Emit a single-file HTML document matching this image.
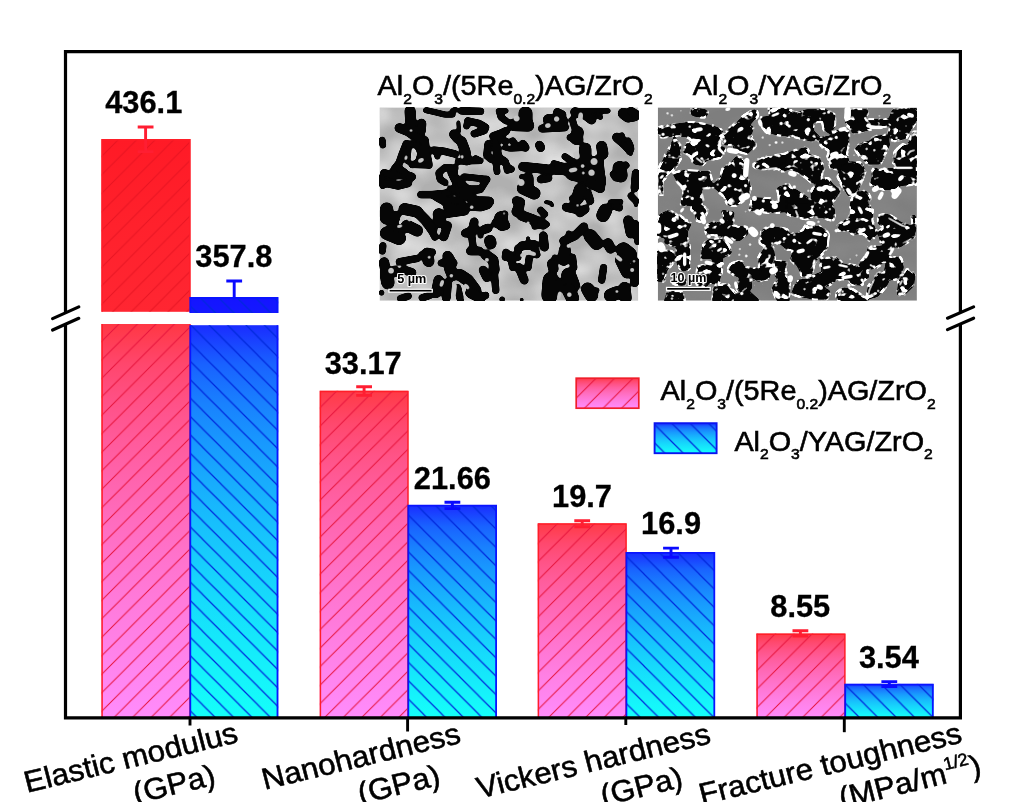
<!DOCTYPE html>
<html lang="en"><head><meta charset="utf-8"><title>Mechanical properties</title>
<style>
html,body{margin:0;padding:0;background:#fff;}
body{width:1024px;height:802px;overflow:hidden;}
svg{display:block;}
text{font-family:"Liberation Sans",sans-serif;fill:#000;}
.v{font-weight:bold;font-size:30.8px;text-anchor:middle;stroke:#000;stroke-width:0.3px;}
.t{font-size:27.8px;stroke:#000;stroke-width:0.6px;}
.x{font-size:30.1px;text-anchor:middle;stroke:#000;stroke-width:0.55px;}
.sub{font-size:15.1px;}
</style></head><body>
<svg width="1024" height="802" viewBox="0 0 1024 802">
<defs>
<linearGradient id="gr" x1="0" y1="0" x2="0" y2="1"><stop offset="0.00" stop-color="#ff3a46"/><stop offset="0.10" stop-color="#ff486d"/><stop offset="0.20" stop-color="#ff5387"/><stop offset="0.30" stop-color="#ff5d9d"/><stop offset="0.40" stop-color="#ff65af"/><stop offset="0.50" stop-color="#ff6dbe"/><stop offset="0.60" stop-color="#ff74cd"/><stop offset="0.70" stop-color="#ff7ada"/><stop offset="0.80" stop-color="#ff81e6"/><stop offset="0.90" stop-color="#ff86f1"/><stop offset="1.00" stop-color="#ff8cfc"/></linearGradient>
<linearGradient id="gb" x1="0" y1="0" x2="0" y2="1"><stop offset="0.00" stop-color="#1a2cff"/><stop offset="0.10" stop-color="#1962ff"/><stop offset="0.20" stop-color="#1981fe"/><stop offset="0.30" stop-color="#1899fe"/><stop offset="0.40" stop-color="#18acfd"/><stop offset="0.50" stop-color="#17befd"/><stop offset="0.60" stop-color="#17cdfc"/><stop offset="0.70" stop-color="#16dbfc"/><stop offset="0.80" stop-color="#15e8fb"/><stop offset="0.90" stop-color="#15f4fb"/><stop offset="1.00" stop-color="#14fffa"/></linearGradient>
<linearGradient id="gr1u" x1="0" y1="0" x2="0" y2="1"><stop offset="0.00" stop-color="#ff1a26"/><stop offset="0.50" stop-color="#ff212c"/><stop offset="1.00" stop-color="#ff2632"/></linearGradient>
<linearGradient id="gr1l" x1="0" y1="0" x2="0" y2="1"><stop offset="0.00" stop-color="#ff3744"/><stop offset="0.10" stop-color="#ff466c"/><stop offset="0.20" stop-color="#ff5187"/><stop offset="0.30" stop-color="#ff5b9c"/><stop offset="0.40" stop-color="#ff64ae"/><stop offset="0.50" stop-color="#ff6cbe"/><stop offset="0.60" stop-color="#ff73cd"/><stop offset="0.70" stop-color="#ff7ada"/><stop offset="0.80" stop-color="#ff80e6"/><stop offset="0.90" stop-color="#ff86f1"/><stop offset="1.00" stop-color="#ff8cfc"/></linearGradient>
<linearGradient id="gb1u" x1="0" y1="0" x2="0" y2="1"><stop offset="0.00" stop-color="#1414ff"/><stop offset="0.50" stop-color="#1416ff"/><stop offset="1.00" stop-color="#1418ff"/></linearGradient>
<linearGradient id="gb1l" x1="0" y1="0" x2="0" y2="1"><stop offset="0.00" stop-color="#1a2cff"/><stop offset="0.10" stop-color="#1962ff"/><stop offset="0.20" stop-color="#1981fe"/><stop offset="0.30" stop-color="#1899fe"/><stop offset="0.40" stop-color="#18acfd"/><stop offset="0.50" stop-color="#17befd"/><stop offset="0.60" stop-color="#17cdfc"/><stop offset="0.70" stop-color="#16dbfc"/><stop offset="0.80" stop-color="#15e8fb"/><stop offset="0.90" stop-color="#15f4fb"/><stop offset="1.00" stop-color="#14fffa"/></linearGradient>
<pattern id="h0" patternUnits="userSpaceOnUse" width="18.5" height="18.5" x="0" y="17.5"><path d="M-1,19.5 L19.5,-1 M-1,1 L1,-1 M17.5,19.5 L19.5,17.5" stroke="#e6143c" stroke-width="1" fill="none" opacity="1"/></pattern>
<pattern id="h1" patternUnits="userSpaceOnUse" width="18.4" height="18.4" x="0" y="5.4"><path d="M-1,-1 L19.4,19.4 M17.4,-1 L19.4,1 M-1,17.4 L1,19.4" stroke="#0028dc" stroke-width="1.2" fill="none"/></pattern>
<pattern id="h2" patternUnits="userSpaceOnUse" width="18.5" height="18.5" x="0" y="6.2"><path d="M-1,19.5 L19.5,-1 M-1,1 L1,-1 M17.5,19.5 L19.5,17.5" stroke="#e6143c" stroke-width="1" fill="none" opacity="1"/></pattern>
<pattern id="h3" patternUnits="userSpaceOnUse" width="18.4" height="18.4" x="0" y="14.7"><path d="M-1,-1 L19.4,19.4 M17.4,-1 L19.4,1 M-1,17.4 L1,19.4" stroke="#0028dc" stroke-width="1.2" fill="none"/></pattern>
<pattern id="h4" patternUnits="userSpaceOnUse" width="18.5" height="18.5" x="0" y="8.1"><path d="M-1,19.5 L19.5,-1 M-1,1 L1,-1 M17.5,19.5 L19.5,17.5" stroke="#e6143c" stroke-width="1" fill="none" opacity="1"/></pattern>
<pattern id="h5" patternUnits="userSpaceOnUse" width="18.4" height="18.4" x="0" y="3.6"><path d="M-1,-1 L19.4,19.4 M17.4,-1 L19.4,1 M-1,17.4 L1,19.4" stroke="#0028dc" stroke-width="1.2" fill="none"/></pattern>
<pattern id="h6" patternUnits="userSpaceOnUse" width="18.5" height="18.5" x="0" y="3.0"><path d="M-1,19.5 L19.5,-1 M-1,1 L1,-1 M17.5,19.5 L19.5,17.5" stroke="#e6143c" stroke-width="1" fill="none" opacity="1"/></pattern>
<pattern id="h7" patternUnits="userSpaceOnUse" width="18.4" height="18.4" x="0" y="5.2"><path d="M-1,-1 L19.4,19.4 M17.4,-1 L19.4,1 M-1,17.4 L1,19.4" stroke="#0028dc" stroke-width="1.2" fill="none"/></pattern>
<pattern id="h0u" patternUnits="userSpaceOnUse" width="18.5" height="18.5" x="0" y="17.5"><path d="M-1,19.5 L19.5,-1 M-1,1 L1,-1 M17.5,19.5 L19.5,17.5" stroke="#e0101e" stroke-width="1" fill="none" opacity="0.75"/></pattern>
<pattern id="hlr" patternUnits="userSpaceOnUse" width="18.5" height="18.5" x="0" y="12.3"><path d="M-1,19.5 L19.5,-1 M-1,1 L1,-1 M17.5,19.5 L19.5,17.5" stroke="#e6143c" stroke-width="1" fill="none" opacity="1"/></pattern>
<pattern id="hlb" patternUnits="userSpaceOnUse" width="18.4" height="18.4" x="0" y="9.1"><path d="M-1,-1 L19.4,19.4 M17.4,-1 L19.4,1 M-1,17.4 L1,19.4" stroke="#0028dc" stroke-width="1.2" fill="none"/></pattern>
<clipPath id="clip1"><rect x="379.6" y="107.4" width="258.6" height="193.3"/></clipPath>
<clipPath id="clip2"><rect x="657.8" y="107.4" width="259.1" height="193.3"/></clipPath>
<filter id="goo" x="-5%" y="-5%" width="110%" height="110%" color-interpolation-filters="sRGB"><feGaussianBlur stdDeviation="1.1"/><feComponentTransfer><feFuncA type="linear" slope="5" intercept="-2"/></feComponentTransfer></filter>
<filter id="goo2" x="-5%" y="-5%" width="110%" height="110%" color-interpolation-filters="sRGB"><feGaussianBlur stdDeviation="0.8"/><feComponentTransfer><feFuncA type="linear" slope="3" intercept="-0.9"/></feComponentTransfer></filter>
<filter id="gooW" x="-5%" y="-5%" width="110%" height="110%" color-interpolation-filters="sRGB"><feGaussianBlur stdDeviation="0.9"/><feComponentTransfer result="shape"><feFuncA type="linear" slope="5" intercept="-2"/></feComponentTransfer><feMorphology in="shape" operator="dilate" radius="1.1" result="dil"/><feMorphology in="shape" operator="erode" radius="1.0" result="ero"/><feComposite in="dil" in2="ero" operator="out" result="rim"/><feTurbulence type="fractalNoise" baseFrequency="0.16" numOctaves="2" seed="11"/><feColorMatrix type="matrix" values="0 0 0 0 1  0 0 0 0 1  0 0 0 0 1  9 0 0 0 -4.3" result="spk"/><feComposite in="spk" in2="rim" operator="in" result="rimspk"/><feGaussianBlur in="rimspk" stdDeviation="0.35" result="rs"/><feTurbulence type="fractalNoise" baseFrequency="0.11 0.13" numOctaves="2" seed="29"/><feColorMatrix type="matrix" values="0 0 0 0 1  0 0 0 0 1  0 0 0 0 1  0 12 0 0 -7.5" result="spk2"/><feComposite in="spk2" in2="shape" operator="in" result="inspk"/><feGaussianBlur in="inspk" stdDeviation="0.4" result="is"/><feMerge><feMergeNode in="shape"/><feMergeNode in="is"/><feMergeNode in="rs"/></feMerge></filter>
<filter id="bg1" x="0" y="0" width="100%" height="100%" color-interpolation-filters="sRGB"><feTurbulence type="fractalNoise" baseFrequency="0.028 0.035" numOctaves="2" seed="7"/><feColorMatrix type="matrix" values="0 0 0 0 0  0 0 0 0 0  0 0 0 0 0  1.6 0 0 0 -0.45" result="n"/><feFlood flood-color="#e4e4e4"/><feComposite in2="n" operator="in"/></filter>
<filter id="bg2" x="0" y="0" width="100%" height="100%" color-interpolation-filters="sRGB"><feTurbulence type="fractalNoise" baseFrequency="0.02 0.05" numOctaves="2" seed="3"/><feColorMatrix type="matrix" values="0 0 0 0 0  0 0 0 0 0  0 0 0 0 0  0.5 0 0 0 -0.15" result="n"/><feFlood flood-color="#a0a0a0"/><feComposite in2="n" operator="in"/></filter>
</defs>
<rect width="1024" height="802" fill="#fff"/>
<g id="bars">
<rect x="101.5" y="139.2" width="88.5" height="172.6" fill="url(#gr1u)"/><rect x="101.5" y="139.2" width="88.5" height="172.6" fill="url(#h0u)"/>
<rect x="101.5" y="324.0" width="88.5" height="393.9" fill="url(#gr1l)"/><rect x="101.5" y="324.0" width="88.5" height="393.9" fill="url(#h0)"/>
<path d="M102.1,311.8 V139.8 H190.0 V311.8 M102.1,324 V717.9 M190.0,324 V717.9" stroke="#ff1e28" stroke-width="1.5" fill="none"/>
<rect x="190.0" y="297.3" width="88.2" height="15.7" fill="url(#gb1u)"/><rect x="190.0" y="297.3" width="88.2" height="15.7" fill="url(#h1)"/>
<rect x="190.0" y="325.2" width="88.2" height="392.7" fill="url(#gb1l)"/><rect x="190.0" y="325.2" width="88.2" height="392.7" fill="url(#h1)"/>
<path d="M190.3,313 V298.0 H277.5 V313 M190.3,325.2 V717.9 M277.5,325.2 V717.9" stroke="#0a14ff" stroke-width="1.8" fill="none"/>
<rect x="319.8" y="390.8" width="88.2" height="327.1" fill="url(#gr)"/><rect x="319.8" y="390.8" width="88.2" height="327.1" fill="url(#h2)"/>
<path d="M320.4,717.9 V391.4 H408.0 V717.9" stroke="#ff1e28" stroke-width="1.5" fill="none"/>
<rect x="408.0" y="505.0" width="88.8" height="212.9" fill="url(#gb)"/><rect x="408.0" y="505.0" width="88.8" height="212.9" fill="url(#h3)"/>
<path d="M408.3,717.9 V505.7 H496.1 V717.9" stroke="#0a14ff" stroke-width="1.8" fill="none"/>
<rect x="537.8" y="523.5" width="88.3" height="194.4" fill="url(#gr)"/><rect x="537.8" y="523.5" width="88.3" height="194.4" fill="url(#h4)"/>
<path d="M538.4,717.9 V524.1 H626.1 V717.9" stroke="#ff1e28" stroke-width="1.5" fill="none"/>
<rect x="626.1" y="552.2" width="88.9" height="165.7" fill="url(#gb)"/><rect x="626.1" y="552.2" width="88.9" height="165.7" fill="url(#h5)"/>
<path d="M626.4,717.9 V552.9 H714.3 V717.9" stroke="#0a14ff" stroke-width="1.8" fill="none"/>
<rect x="756.5" y="633.6" width="88.4" height="84.3" fill="url(#gr)"/><rect x="756.5" y="633.6" width="88.4" height="84.3" fill="url(#h6)"/>
<path d="M757.1,717.9 V634.2 H844.9 V717.9" stroke="#ff1e28" stroke-width="1.5" fill="none"/>
<rect x="844.9" y="683.9" width="88.6" height="34.0" fill="url(#gb)"/><rect x="844.9" y="683.9" width="88.6" height="34.0" fill="url(#h7)"/>
<path d="M845.2,717.9 V684.6 H932.8 V717.9" stroke="#0a14ff" stroke-width="1.8" fill="none"/>
</g>
<g id="errs" fill="none" stroke-width="2.9" stroke-linecap="butt">
<path d="M137.7,127.0 H153.5 M137.7,151.6 H153.5 M145.6,127.0 V151.6" stroke="#ff1e32"/>
<path d="M226.3,281.0 H242.1 M234.2,281.0 V297.3" stroke="#0a0aff"/>
<path d="M356.2,386.7 H372.0 M356.2,395.4 H372.0 M364.1,386.7 V395.4" stroke="#ff1e32"/>
<path d="M444.5,502.2 H460.3 M444.5,508.6 H460.3 M452.4,502.2 V508.6" stroke="#0a0aff"/>
<path d="M574.3,520.7 H590.1 M574.3,526.8 H590.1 M582.2,520.7 V526.8" stroke="#ff1e32"/>
<path d="M663.1,548.1 H678.9 M663.1,557.3 H678.9 M671.0,548.1 V557.3" stroke="#0a0aff"/>
<path d="M792.5,630.8 H808.3 M792.5,636.0 H808.3 M800.4,630.8 V636.0" stroke="#ff1e32"/>
<path d="M881.4,681.6 H897.2 M881.4,686.5 H897.2 M889.3,681.6 V686.5" stroke="#0a0aff"/>
</g>
<g id="frame" stroke="#000" stroke-width="3.2" fill="none">
<path d="M65.5,324 V717.9 H960.4 V324 M960.4,312.5 V51.7 H65.5 V312.5" stroke-linejoin="miter" stroke-linecap="butt"/>
<path d="M190.0,717.9 V725.5" stroke-width="2.9"/>
<path d="M407.6,717.9 V731.5" stroke-width="2.9"/>
<path d="M625.8,717.9 V725.0" stroke-width="2.9"/>
<path d="M844.3,717.9 V732.2" stroke-width="2.9"/>
<g stroke-width="3.2" stroke-linecap="round"><path d="M52.6,318.6 L78.8,306.9 M52.6,330.0 L78.8,318.3"/><path d="M947.5,318.2 L973.6,306.9 M947.5,329.6 L973.6,318.2"/></g>
</g>
<g id="vals">
<text class="v" x="143.75" y="113.3">436.1</text>
<text class="v" x="233.9" y="267.3">357.8</text>
<text class="v" x="363.2" y="373.5">33.17</text>
<text class="v" x="452.4" y="488.5">21.66</text>
<text class="v" x="582.0" y="507.0">19.7</text>
<text class="v" x="671.1" y="534.4">16.9</text>
<text class="v" x="800.3" y="617.1">8.55</text>
<text class="v" x="888.9" y="667.9">3.54</text>
</g>
<g id="titles">
<text class="t" transform="translate(377.6,95.2) scale(1.036,1)">Al<tspan class="sub" dy="8.6">2</tspan><tspan dy="-8.6">O</tspan><tspan class="sub" dy="8.6">3</tspan><tspan dy="-8.6">/(5Re</tspan><tspan class="sub" dy="8.6">0.2</tspan><tspan dy="-8.6">)AG/ZrO</tspan><tspan class="sub" dy="8.6">2</tspan></text>
<text class="t" transform="translate(692.8,95.2) scale(1.036,1)">Al<tspan class="sub" dy="8.6">2</tspan><tspan dy="-8.6">O</tspan><tspan class="sub" dy="8.6">3</tspan><tspan dy="-8.6">/YAG/ZrO</tspan><tspan class="sub" dy="8.6">2</tspan></text>
<text class="t" transform="translate(660.6,400.2) scale(1.036,1)">Al<tspan class="sub" dy="8.6">2</tspan><tspan dy="-8.6">O</tspan><tspan class="sub" dy="8.6">3</tspan><tspan dy="-8.6">/(5Re</tspan><tspan class="sub" dy="8.6">0.2</tspan><tspan dy="-8.6">)AG/ZrO</tspan><tspan class="sub" dy="8.6">2</tspan></text>
<text class="t" transform="translate(734.4,450.6) scale(1.036,1)">Al<tspan class="sub" dy="8.6">2</tspan><tspan dy="-8.6">O</tspan><tspan class="sub" dy="8.6">3</tspan><tspan dy="-8.6">/YAG/ZrO</tspan><tspan class="sub" dy="8.6">2</tspan></text>
</g>
<g id="legend">
<rect x="576.2" y="378.2" width="62.6" height="30" fill="url(#gr)"/><rect x="576.2" y="378.2" width="62.6" height="30" fill="url(#hlr)" stroke="#f01e2a" stroke-width="1.7"/>
<rect x="654.6" y="423.2" width="62" height="30" fill="url(#gb)"/><rect x="654.6" y="423.2" width="62" height="30" fill="url(#hlb)" stroke="#0a14f0" stroke-width="1.9"/>
</g>
<g id="sem1"><g clip-path="url(#clip1)">
<rect x="379.6" y="107.4" width="258.6" height="193.3" fill="#b0b0b0"/>
<rect x="379.6" y="107.4" width="258.6" height="193.3" filter="url(#bg1)"/>
<g fill="none" stroke="#9a9a9a" stroke-linecap="round" stroke-linejoin="round" filter="url(#goo)">
<g transform="translate(509,107) scale(0.12695)">
<path d="M820,630 L820.1,630" stroke-width="24.0"/>
</g>
</g>
<g fill="none" stroke="#060606" stroke-linecap="round" stroke-linejoin="round" filter="url(#goo)">
<g transform="translate(379,107) scale(0.12695)">
<path d="M245,30 L250,120 L240,190" stroke-width="89.6"/>
<path d="M160,165 L250,200 L330,190 L335,130" stroke-width="78.4"/>
<path d="M250,215 L340,260 L360,300" stroke-width="67.2"/>
<path d="M25,260 L30,300" stroke-width="56.0"/>
<path d="M215,290 L180,380 L160,440 L120,490" stroke-width="61.6"/>
<path d="M215,290 L300,300 L330,360 L310,440 L260,455" stroke-width="56.0"/>
<path d="M235,330 L225,430" stroke-width="44.8"/>
<path d="M360,260 L370,350 L390,450" stroke-width="67.2"/>
<path d="M280,460 L400,465" stroke-width="44.8"/>
<path d="M430,340 L520,350 L600,370" stroke-width="61.6"/>
<path d="M450,340 L460,390" stroke-width="50.4"/>
<path d="M625,120 L630,190" stroke-width="33.6"/>
<path d="M590,215 L620,250" stroke-width="78.4"/>
<path d="M650,270 L680,350 L690,420" stroke-width="84.0"/>
<path d="M620,430 L800,425" stroke-width="50.4"/>
<path d="M760,400 L790,415" stroke-width="44.8"/>
<path d="M370,25 L440,40 L520,60 L580,60" stroke-width="50.4"/>
<path d="M580,30 L600,20" stroke-width="44.8"/>
<path d="M650,30 L800,35" stroke-width="61.6"/>
<path d="M700,110 L790,130 L840,160 L830,185 L750,210" stroke-width="61.6"/>
<path d="M700,110 L690,150" stroke-width="56.0"/>
<path d="M950,40 L960,80 L1000,110" stroke-width="56.0"/>
<path d="M940,30 L1000,30" stroke-width="44.8"/>
<path d="M900,230 L960,210 L1000,190" stroke-width="67.2"/>
<path d="M900,230 L1000,270" stroke-width="56.0"/>
<path d="M860,290 L850,380 L880,410" stroke-width="61.6"/>
<path d="M920,290 L940,400 L990,430" stroke-width="67.2"/>
<path d="M990,320 L1024,330" stroke-width="44.8"/>
<path d="M920,430 L930,510" stroke-width="56.0"/>
<path d="M1000,440 L1010,500" stroke-width="56.0"/>
<path d="M40,520 L100,540 L200,530 L260,550" stroke-width="67.2"/>
<path d="M20,560 L30,620" stroke-width="56.0"/>
<path d="M60,600 L150,620 L230,600" stroke-width="67.2"/>
<path d="M150,480 L200,510" stroke-width="56.0"/>
<path d="M600,480 L520,475 L470,520 L480,570 L520,595" stroke-width="56.0"/>
<path d="M600,480 L600,530 L560,520" stroke-width="44.8"/>
<path d="M570,540 L600,600" stroke-width="44.8"/>
<path d="M670,550 L760,560 L850,570" stroke-width="56.0"/>
<path d="M850,570 L800,650" stroke-width="56.0"/>
<path d="M640,600 L700,650 L780,650" stroke-width="67.2"/>
<path d="M620,560 L640,620" stroke-width="44.8"/>
<path d="M330,690 L420,690 L520,680 L600,660" stroke-width="61.6"/>
<path d="M450,700 L520,740 L640,750" stroke-width="78.4"/>
<path d="M600,650 L700,700 L760,740 L870,745" stroke-width="78.4"/>
<path d="M560,640 L620,660" stroke-width="44.8"/>
</g>
<g transform="translate(509,107) scale(0.12695)">
<path d="M130,50 L130,110" stroke-width="112.0"/>
<path d="M40,140 L150,145" stroke-width="100.8"/>
<path d="M260,170 L440,160" stroke-width="67.2"/>
<path d="M310,100 L420,110" stroke-width="89.6"/>
<path d="M380,40 L420,60" stroke-width="67.2"/>
<path d="M520,40 L600,60 L650,100" stroke-width="78.4"/>
<path d="M560,30 L780,30" stroke-width="44.8"/>
<path d="M700,60 L720,80" stroke-width="44.8"/>
<path d="M500,100 L520,170" stroke-width="56.0"/>
<path d="M540,200 L530,250" stroke-width="100.8"/>
<path d="M480,240 L560,260" stroke-width="56.0"/>
<path d="M900,50 L940,80" stroke-width="89.6"/>
<path d="M960,30 L1010,60" stroke-width="67.2"/>
<path d="M980,100 L1010,90" stroke-width="33.6"/>
<path d="M850,240 L900,280 L950,330" stroke-width="78.4"/>
<path d="M890,220 L900,260" stroke-width="44.8"/>
<path d="M940,260 L960,300" stroke-width="44.8"/>
<path d="M940,360 L960,370" stroke-width="33.6"/>
<path d="M30,265 L50,300" stroke-width="56.0"/>
<path d="M110,290 L130,320" stroke-width="67.2"/>
<path d="M20,330 L130,325" stroke-width="44.8"/>
<path d="M240,300 L250,320" stroke-width="72.8"/>
<path d="M110,470 L300,490 L460,500" stroke-width="78.4"/>
<path d="M600,330 L600,420" stroke-width="100.8"/>
<path d="M730,310 L740,370" stroke-width="89.6"/>
<path d="M560,420 L700,440" stroke-width="89.6"/>
<path d="M500,520 L700,560" stroke-width="123.2"/>
<path d="M700,420 L720,600" stroke-width="89.6"/>
<path d="M640,600 L720,640" stroke-width="78.4"/>
<path d="M440,390 L500,430" stroke-width="56.0"/>
<path d="M350,440 L460,470" stroke-width="44.8"/>
<path d="M0,480 L20,490" stroke-width="56.0"/>
<path d="M150,560 L150,640" stroke-width="89.6"/>
<path d="M250,570 L310,560" stroke-width="67.2"/>
<path d="M110,640 L200,680" stroke-width="100.8"/>
<path d="M100,550 L110,560" stroke-width="44.8"/>
<path d="M60,740 L90,750" stroke-width="78.4"/>
<path d="M560,650 L540,720" stroke-width="100.8"/>
<path d="M620,680 L640,740" stroke-width="67.2"/>
<path d="M500,720 L510,750" stroke-width="56.0"/>
<path d="M870,480 L880,540" stroke-width="112.0"/>
<path d="M820,530 L840,560" stroke-width="56.0"/>
<path d="M920,450 L930,460" stroke-width="44.8"/>
<path d="M1000,520 L990,640" stroke-width="67.2"/>
<path d="M800,750 L880,745" stroke-width="44.8"/>
<path d="M960,700 L1000,740" stroke-width="56.0"/>
<path d="M290,750 L330,755" stroke-width="33.6"/>
</g>
<g transform="translate(379,204) scale(0.12695)">
<path d="M60,40 L60,110" stroke-width="108.0"/>
<path d="M200,40 L300,60" stroke-width="96.0"/>
<path d="M140,90 L110,160" stroke-width="72.0"/>
<path d="M300,60 L370,130 L420,200" stroke-width="84.0"/>
<path d="M220,170 L300,210" stroke-width="96.0"/>
<path d="M60,230 L160,270" stroke-width="108.0"/>
<path d="M420,220 L440,260" stroke-width="60.0"/>
<path d="M100,180 L200,200" stroke-width="60.0"/>
<path d="M470,80 L480,140" stroke-width="96.0"/>
<path d="M540,170 L510,260" stroke-width="72.0"/>
<path d="M540,20 L600,40" stroke-width="72.0"/>
<path d="M540,80 L680,60" stroke-width="60.0"/>
<path d="M640,20 L800,30 L860,10" stroke-width="60.0"/>
<path d="M30,330 L25,370" stroke-width="60.0"/>
<path d="M160,455 L300,430" stroke-width="60.0"/>
<path d="M380,390 L390,450" stroke-width="96.0"/>
<path d="M340,400 L420,380" stroke-width="60.0"/>
<path d="M540,410 L560,440" stroke-width="84.0"/>
<path d="M490,465 L590,465" stroke-width="60.0"/>
<path d="M40,460 L50,520" stroke-width="84.0"/>
<path d="M60,560 L70,620" stroke-width="108.0"/>
<path d="M120,520 L140,540" stroke-width="72.0"/>
<path d="M200,520 L260,540" stroke-width="72.0"/>
<path d="M560,510 L580,560" stroke-width="96.0"/>
<path d="M470,600 L450,700" stroke-width="84.0"/>
<path d="M540,620 L530,740" stroke-width="72.0"/>
<path d="M640,560 L700,600 L760,680" stroke-width="96.0"/>
<path d="M620,660 L640,750" stroke-width="60.0"/>
<path d="M720,700 L800,740" stroke-width="84.0"/>
<path d="M840,720 L840.1,720" stroke-width="60.0"/>
<path d="M170,745 L230,725" stroke-width="60.0"/>
<path d="M340,740 L400,720" stroke-width="60.0"/>
<path d="M20,700 L20.1,700" stroke-width="48.0"/>
<path d="M750,140 L740,190" stroke-width="72.0"/>
<path d="M680,230 L760,200" stroke-width="72.0"/>
<path d="M730,250 L740,330" stroke-width="60.0"/>
<path d="M720,370 L790,370" stroke-width="72.0"/>
<path d="M830,200 L860,190" stroke-width="72.0"/>
<path d="M800,250 L800.1,250" stroke-width="48.0"/>
<path d="M875,290 L880,310" stroke-width="96.0"/>
<path d="M960,110 L970,160" stroke-width="108.0"/>
<path d="M920,150 L1000,170" stroke-width="72.0"/>
<path d="M990,80 L990.1,80" stroke-width="60.0"/>
<path d="M840,400 L900,440 L910,520" stroke-width="84.0"/>
<path d="M820,520 L850,580" stroke-width="72.0"/>
<path d="M910,560 L920,680" stroke-width="60.0"/>
<path d="M1000,380 L995,420" stroke-width="60.0"/>
<path d="M970,750 L970.1,750" stroke-width="48.0"/>
</g>
<g transform="translate(509,204) scale(0.12695)">
<path d="M80,20 L60,60" stroke-width="84.0"/>
<path d="M100,90 L180,120 L270,160" stroke-width="84.0"/>
<path d="M200,180 L300,160" stroke-width="48.0"/>
<path d="M250,50 L280,80" stroke-width="60.0"/>
<path d="M450,25 L560,50" stroke-width="72.0"/>
<path d="M560,70 L600,40" stroke-width="72.0"/>
<path d="M340,10 L340.1,10" stroke-width="36.0"/>
<path d="M760,50 L740,90" stroke-width="108.0"/>
<path d="M840,20 L870,30" stroke-width="60.0"/>
<path d="M1000,10 L1000.1,10" stroke-width="36.0"/>
<path d="M940,130 L960,230" stroke-width="84.0"/>
<path d="M1000,150 L1010,300" stroke-width="48.0"/>
<path d="M590,180 L520,250 L430,290" stroke-width="72.0"/>
<path d="M470,230 L470.1,230" stroke-width="48.0"/>
<path d="M640,250 L690,310" stroke-width="108.0"/>
<path d="M780,310 L800,350" stroke-width="84.0"/>
<path d="M900,360 L950,400" stroke-width="120.0"/>
<path d="M880,440 L930,540" stroke-width="96.0"/>
<path d="M1000,460 L990,620" stroke-width="72.0"/>
<path d="M100,330 L200,320" stroke-width="72.0"/>
<path d="M200,350 L220,400" stroke-width="60.0"/>
<path d="M70,350 L70,420" stroke-width="60.0"/>
<path d="M160,420 L150,500" stroke-width="60.0"/>
<path d="M80,500 L120,600" stroke-width="72.0"/>
<path d="M150,270 L150.1,270" stroke-width="36.0"/>
<path d="M10,400 L30,500" stroke-width="60.0"/>
<path d="M270,250 L280,340" stroke-width="72.0"/>
<path d="M440,360 L430,440" stroke-width="96.0"/>
<path d="M500,420 L510,500" stroke-width="60.0"/>
<path d="M340,470 L350,510" stroke-width="84.0"/>
<path d="M360,420 L360.1,420" stroke-width="48.0"/>
<path d="M330,600 L320,720" stroke-width="132.0"/>
<path d="M470,560 L500,640" stroke-width="120.0"/>
<path d="M470,680 L500,740" stroke-width="108.0"/>
<path d="M400,620 L400,660" stroke-width="72.0"/>
<path d="M620,670 L650,720" stroke-width="108.0"/>
<path d="M690,680 L690.1,680" stroke-width="48.0"/>
<path d="M745,500 L730,600" stroke-width="60.0"/>
<path d="M800,720 L850,700" stroke-width="108.0"/>
<path d="M910,660 L920,740" stroke-width="96.0"/>
<path d="M100,755 L100.1,755" stroke-width="36.0"/>
</g>
</g>
<g fill="none" stroke="#c4c4c4" stroke-linecap="round" stroke-linejoin="round" filter="url(#goo2)">
<g transform="translate(379,107) scale(0.12695)">
<path d="M270,365 L285,380" stroke-width="26.4"/>
<path d="M215,390 L210,410" stroke-width="21.6"/>
<path d="M320,425 L340,415" stroke-width="30.0"/>
<path d="M655,385 L655,400" stroke-width="21.6"/>
<path d="M250,185 L255,185" stroke-width="24.0"/>
</g>
<g transform="translate(509,107) scale(0.12695)">
<path d="M60,90 L60.1,90" stroke-width="48.0"/>
<path d="M375,95 L375.1,95" stroke-width="43.2"/>
<path d="M300,147 L312,145" stroke-width="36.0"/>
<path d="M530,370 L535,390" stroke-width="45.6"/>
<path d="M670,430 L670.1,430" stroke-width="55.2"/>
<path d="M580,465 L580.1,465" stroke-width="33.6"/>
<path d="M485,500 L525,492" stroke-width="31.2"/>
<path d="M650,517 L650.1,517" stroke-width="50.4"/>
<path d="M585,520 L585.1,520" stroke-width="28.8"/>
<path d="M95,595 L95.1,595" stroke-width="55.2"/>
<path d="M560,110 L565,60" stroke-width="36.0"/>
</g>
<g transform="translate(379,204) scale(0.12695)">
<path d="M185,115 L185.1,115" stroke-width="41.4"/>
<path d="M240,120 L240.1,120" stroke-width="34.5"/>
<path d="M150,178 L175,172" stroke-width="23.0"/>
<path d="M730,25 L730.1,25" stroke-width="32.2"/>
<path d="M395,420 L395.1,420" stroke-width="27.6"/>
<path d="M95,525 L95.1,525" stroke-width="46.0"/>
<path d="M500,610 L490,640" stroke-width="27.6"/>
<path d="M600,640 L590,720" stroke-width="27.6"/>
<path d="M680,640 L700,660" stroke-width="27.6"/>
<path d="M570,565 L570.1,565" stroke-width="32.2"/>
<path d="M680,740 L680.1,740" stroke-width="32.2"/>
<path d="M985,75 L985.1,75" stroke-width="23.0"/>
<path d="M850,440 L850.1,440" stroke-width="34.5"/>
</g>
<g transform="translate(509,204) scale(0.12695)">
<path d="M850,415 L880,440" stroke-width="29.9"/>
<path d="M970,520 L970.1,520" stroke-width="34.5"/>
<path d="M985,450 L985.1,450" stroke-width="25.3"/>
<path d="M100,405 L150,380 L200,395" stroke-width="29.9"/>
<path d="M470,330 L470.1,330" stroke-width="34.5"/>
<path d="M475,715 L475.1,715" stroke-width="39.1"/>
<path d="M400,700 L390,740" stroke-width="25.3"/>
<path d="M850,690 L850.1,690" stroke-width="27.6"/>
<path d="M150,150 L150.1,150" stroke-width="29.9"/>
<path d="M540,10 L540.1,10" stroke-width="25.3"/>
</g>
</g>
<g fill="none" stroke="#ffffff" stroke-linecap="round" stroke-linejoin="round" filter="url(#goo2)">
</g>
</g>
</g>
<g id="sem2"><g clip-path="url(#clip2)">
<rect x="657.8" y="107.4" width="259.1" height="193.3" fill="#7e7e7e"/>
<rect x="657.8" y="107.4" width="259.1" height="193.3" filter="url(#bg2)"/>
<g fill="none" stroke="#9a9a9a" stroke-linecap="round" stroke-linejoin="round" filter="url(#goo)">
<g transform="translate(788,204) scale(0.12695)">
<path d="M830,510 L830.1,510" stroke-width="30.0"/>
</g>
</g>
<g fill="none" stroke="#060606" stroke-linecap="round" stroke-linejoin="round" filter="url(#gooW)">
<g transform="translate(658,107) scale(0.12695)">
<path d="M290,40 L360,50" stroke-width="69.0"/>
<path d="M10,170 L100,150 L250,130 L400,150 L500,180 L480,260 L440,300 L300,290 L250,230 L150,215 L30,230 L10,210Z" fill="#060606" stroke-width="26"/>
<path d="M230,300 L300,280 L440,300 L520,330 L480,390 L380,410 L340,450 L290,440 L270,380 L210,350Z" fill="#060606" stroke-width="26"/>
<path d="M130,250 L165,300 L170,400 L120,480 L60,540 L20,580 L10,500 L50,420 L100,330Z" fill="#060606" stroke-width="26"/>
<path d="M760,30 L780,60 L720,130 L640,200 L740,160 L720,250 L600,280 L530,290 L520,230 L580,170 L680,80Z" fill="#060606" stroke-width="26"/>
<path d="M640,290 L740,270 L760,300 L700,360 L640,340 L600,320Z" fill="#060606" stroke-width="26"/>
<path d="M880,20 L1024,20 L1024,220 L940,210 L860,190 L830,150 L820,90 L900,80Z" fill="#060606" stroke-width="26"/>
<path d="M780,440 L860,400 L1010,380 L1024,400 L1010,440 L930,480 L800,480 L760,460Z" fill="#060606" stroke-width="26"/>
<path d="M980,480 L1010,470" stroke-width="57.5"/>
<path d="M130,530 L200,510 L400,520 L420,620 L340,630 L330,700 L340,764 L190,764 L220,650 L170,600Z" fill="#060606" stroke-width="26"/>
<path d="M620,400 L670,420 L650,500 L700,560 L720,640 L700,700 L620,764 L560,764 L520,690 L440,620 L500,560 L520,490 L580,450Z" fill="#060606" stroke-width="26"/>
<path d="M950,640 L1024,620 L1024,764 L960,764 L960,690Z" fill="#060606" stroke-width="26"/>
<path d="M760,740 L870,745" stroke-width="57.5"/>
<path d="M20,600 L25,680" stroke-width="34.5"/>
</g>
<g transform="translate(788,107) scale(0.12695)">
<path d="M0,30 L60,60 L150,30 L300,30 L360,70 L360,150 L330,200 L290,170 L280,100 L200,110 L190,190 L240,240 L180,260 L80,230 L0,220Z" fill="#060606" stroke-width="26"/>
<path d="M400,190 L470,200 L470,280 L450,380 L470,420 L400,480 L350,480 L320,400 L340,340 L270,300 L250,250 L330,240Z" fill="#060606" stroke-width="26"/>
<path d="M470,40 L520,30 L620,30 L600,90 L540,110 L500,160 L460,120Z" fill="#060606" stroke-width="26"/>
<path d="M520,150 L600,110 L750,110 L800,100 L790,140 L700,150 L600,180 L510,195Z" fill="#060606" stroke-width="26"/>
<path d="M830,30 L900,20 L1010,20 L1010,90 L960,170 L920,240 L830,260 L800,200 L830,130 L810,80Z" fill="#060606" stroke-width="26"/>
<path d="M700,240 L780,230 L790,300 L760,350 L720,440 L640,440 L590,400 L540,330 L590,290 L640,280Z" fill="#060606" stroke-width="26"/>
<path d="M1000,200 L1010,460 L900,470 L840,440 L850,360 L900,310 L960,290Z" fill="#060606" stroke-width="26"/>
<path d="M740,500 L860,490 L1000,480 L1010,600 L880,610 L850,640 L760,640 L660,610 L670,560Z" fill="#060606" stroke-width="26"/>
<path d="M690,500 L680,530" stroke-width="46.0"/>
<path d="M0,370 L100,340 L140,330 L170,390 L240,410 L270,480 L250,560 L200,590 L140,540 L80,500 L0,480Z" fill="#060606" stroke-width="26"/>
<path d="M500,440 L570,450 L600,500 L570,580 L540,660 L480,690 L440,620 L400,540 L420,480Z" fill="#060606" stroke-width="26"/>
<path d="M230,600 L310,570 L350,620 L400,660 L360,720 L300,764 L200,764 L190,680Z" fill="#060606" stroke-width="26"/>
<path d="M0,640 L60,660 L150,720 L180,764 L0,764Z" fill="#060606" stroke-width="26"/>
<path d="M560,680 L610,670 L640,720 L600,764 L500,764 L520,720Z" fill="#060606" stroke-width="26"/>
</g>
<g transform="translate(658,204) scale(0.12695)">
<path d="M20,90 L80,60 L160,100 L250,160 L220,220 L230,300 L180,310 L120,330 L60,300 L80,260 L0,250 L0,150Z" fill="#060606" stroke-width="26"/>
<path d="M280,10 L340,10 L380,50 L340,130 L310,120 L300,60 L270,40Z" fill="#060606" stroke-width="26"/>
<path d="M510,60 L590,70 L580,140 L560,180 L690,190 L700,230 L640,280 L560,280 L500,240 L390,230 L380,180 L430,150 L500,160 L530,110Z" fill="#060606" stroke-width="26"/>
<path d="M400,290 L500,280 L540,320 L570,380 L520,410 L440,420 L350,420 L360,340Z" fill="#060606" stroke-width="26"/>
<path d="M740,10 L900,0 L1024,0 L1024,50 L900,60 L800,50 L730,40Z" fill="#060606" stroke-width="26"/>
<path d="M830,210 L920,190 L1010,210 L1024,260 L1010,340 L960,300 L900,300 L860,330 L810,300Z" fill="#060606" stroke-width="26"/>
<path d="M840,360 L900,350 L910,420 L880,500 L870,580 L800,590 L810,500 L800,430Z" fill="#060606" stroke-width="26"/>
<path d="M580,480 L650,460 L680,510 L780,520 L830,560 L800,600 L700,580 L620,560 L560,520Z" fill="#060606" stroke-width="26"/>
<path d="M160,320 L240,330 L240,500 L200,520 L160,470 L150,380Z" fill="#060606" stroke-width="26"/>
<path d="M0,380 L100,380 L130,430 L60,520 L40,600 L0,600Z" fill="#060606" stroke-width="26"/>
<path d="M440,440 L500,440 L490,540 L470,620 L410,620 L420,520Z" fill="#060606" stroke-width="26"/>
<path d="M320,500 L400,490 L410,540 L380,640 L310,630Z" fill="#060606" stroke-width="26"/>
<path d="M140,600 L190,610" stroke-width="69.0"/>
<path d="M450,660 L540,640 L600,710 L590,764 L440,764Z" fill="#060606" stroke-width="26"/>
<path d="M650,590 L720,580 L730,660 L690,690 L630,670Z" fill="#060606" stroke-width="26"/>
<path d="M620,720 L720,700 L790,764 L590,764Z" fill="#060606" stroke-width="26"/>
<path d="M930,460 L1000,460 L990,560 L1024,600 L1024,764 L950,764 L910,660 L960,600 L930,560Z" fill="#060606" stroke-width="26"/>
<path d="M80,700 L180,700 L200,764 L60,764Z" fill="#060606" stroke-width="26"/>
</g>
<g transform="translate(788,204) scale(0.12695)">
<path d="M0,10 L100,20 L200,10 L340,0 L360,60 L350,120 L280,100 L200,90 L150,110 L60,90 L0,70Z" fill="#060606" stroke-width="26"/>
<path d="M150,170 L250,190 L310,230 L300,340 L250,400 L200,450 L180,540 L120,560 L80,480 L30,430 L60,350 L0,350 L0,240 L80,240 L130,210Z" fill="#060606" stroke-width="26"/>
<path d="M500,0 L620,0 L660,60 L650,130 L690,230 L650,280 L600,220 L520,230 L480,200 L400,200 L400,170 L500,110Z" fill="#060606" stroke-width="26"/>
<path d="M720,100 L780,90 L900,160 L1000,190 L980,260 L880,330 L800,330 L740,300 L720,230 L780,180 L720,150Z" fill="#060606" stroke-width="26"/>
<path d="M990,100 L995,150" stroke-width="34.5"/>
<path d="M640,350 L750,340 L810,370 L760,440 L680,500 L600,510 L570,480 L620,420Z" fill="#060606" stroke-width="26"/>
<path d="M790,430 L880,430 L900,500 L860,580 L800,590 L770,520Z" fill="#060606" stroke-width="26"/>
<path d="M940,520 L990,560 L980,640 L920,700 L870,710 L880,620Z" fill="#060606" stroke-width="26"/>
<path d="M260,440 L380,430 L420,480 L500,490 L600,520 L630,570 L560,600 L480,580 L380,590 L300,640 L200,620 L180,580 L280,540 L270,490Z" fill="#060606" stroke-width="26"/>
<path d="M500,615 L570,620" stroke-width="46.0"/>
<path d="M80,610 L160,600 L220,640 L320,690 L300,740 L200,740 L100,720 L40,700Z" fill="#060606" stroke-width="26"/>
<path d="M720,550 L790,560 L780,620 L700,720 L630,740 L640,660Z" fill="#060606" stroke-width="26"/>
<path d="M440,670 L500,680 L560,720 L620,764 L400,764 L390,710Z" fill="#060606" stroke-width="26"/>
<path d="M0,630 L0.1,630" stroke-width="34.5"/>
</g>
</g>
<g fill="none" stroke="#c4c4c4" stroke-linecap="round" stroke-linejoin="round" filter="url(#goo2)">
</g>
<g fill="none" stroke="#ffffff" stroke-linecap="round" stroke-linejoin="round" filter="url(#goo2)">
<g transform="translate(658,107) scale(0.12695)">
<path d="M560,340 L620,350" stroke-width="40.0"/>
<path d="M700,420 L690,540" stroke-width="40.0"/>
<path d="M660,720 L700,700" stroke-width="50.0"/>
<path d="M800,110 L810,140" stroke-width="30.0"/>
<path d="M640,180 L660,170" stroke-width="30.0"/>
<path d="M300,180 L340,175" stroke-width="30.0"/>
<path d="M250,155 L250.1,155" stroke-width="25.0"/>
<path d="M320,265 L320.1,265" stroke-width="25.0"/>
<path d="M490,260 L480,330 L520,370" stroke-width="20.0"/>
<path d="M380,300 L400,310" stroke-width="20.0"/>
<path d="M440,380 L440.1,380" stroke-width="22.0"/>
<path d="M300,400 L350,440" stroke-width="15.0"/>
<path d="M75,50 L75.1,50" stroke-width="24.0"/>
<path d="M110,65 L110.1,65" stroke-width="24.0"/>
<path d="M180,30 L180.1,30" stroke-width="20.0"/>
<path d="M540,20 L560,15" stroke-width="25.0"/>
<path d="M825,240 L825.1,240" stroke-width="24.0"/>
<path d="M880,300 L880.1,300" stroke-width="24.0"/>
<path d="M930,280 L930.1,280" stroke-width="28.0"/>
<path d="M980,280 L980.1,280" stroke-width="24.0"/>
<path d="M790,410 L790.1,410" stroke-width="25.0"/>
<path d="M860,490 L940,480" stroke-width="15.0"/>
<path d="M600,540 L600.1,540" stroke-width="40.0"/>
<path d="M560,620 L560.1,620" stroke-width="30.0"/>
<path d="M690,620 L690.1,620" stroke-width="30.0"/>
<path d="M470,610 L470.1,610" stroke-width="24.0"/>
<path d="M150,590 L210,650" stroke-width="20.0"/>
<path d="M350,640 L410,640" stroke-width="15.0"/>
<path d="M20,560 L40,540" stroke-width="20.0"/>
<path d="M30,660 L30.1,660" stroke-width="18.0"/>
<path d="M90,380 L90.1,380" stroke-width="24.0"/>
<path d="M60,440 L60.1,440" stroke-width="20.0"/>
<path d="M130,300 L130.1,300" stroke-width="20.0"/>
<path d="M40,215 L40.1,215" stroke-width="30.0"/>
<path d="M120,215 L120.1,215" stroke-width="20.0"/>
<path d="M180,215 L180.1,215" stroke-width="20.0"/>
<path d="M760,720 L760.1,720" stroke-width="40.0"/>
<path d="M830,740 L830.1,740" stroke-width="30.0"/>
<path d="M1000,640 L1000.1,640" stroke-width="30.0"/>
<path d="M960,660 L960.1,660" stroke-width="15.0"/>
<path d="M270,720 L270.1,720" stroke-width="30.0"/>
<path d="M345,680 L360,740" stroke-width="15.0"/>
<path d="M900,70 L950,50" stroke-width="20.0"/>
<path d="M970,130 L970.1,130" stroke-width="30.0"/>
<path d="M850,180 L850.1,180" stroke-width="24.0"/>
</g>
<g transform="translate(788,107) scale(0.12695)">
<path d="M470,20 L470,70" stroke-width="50.0"/>
<path d="M650,160 L740,160" stroke-width="25.0"/>
<path d="M560,190 L560.1,190" stroke-width="20.0"/>
<path d="M150,190 L160,180" stroke-width="40.0"/>
<path d="M160,100 L160.1,100" stroke-width="30.0"/>
<path d="M320,40 L320.1,40" stroke-width="30.0"/>
<path d="M10,150 L10.1,150" stroke-width="30.0"/>
<path d="M410,180 L450,170" stroke-width="30.0"/>
<path d="M380,240 L380.1,240" stroke-width="30.0"/>
<path d="M350,380 L380,370" stroke-width="40.0"/>
<path d="M270,320 L270.1,320" stroke-width="25.0"/>
<path d="M20,520 L50,530" stroke-width="40.0"/>
<path d="M50,630 L50.1,630" stroke-width="30.0"/>
<path d="M160,660 L160.1,660" stroke-width="25.0"/>
<path d="M700,640 L680,650" stroke-width="40.0"/>
<path d="M720,720 L740,680" stroke-width="30.0"/>
<path d="M840,700 L870,660" stroke-width="50.0"/>
<path d="M820,660 L820.1,660" stroke-width="30.0"/>
<path d="M900,550 L880,570" stroke-width="30.0"/>
<path d="M850,480 L980,480" stroke-width="18.0"/>
<path d="M940,380 L960,350 L1000,340" stroke-width="15.0"/>
<path d="M860,320 L840,400" stroke-width="15.0"/>
<path d="M720,70 L720.1,70" stroke-width="20.0"/>
<path d="M770,95 L770.1,95" stroke-width="20.0"/>
<path d="M950,60 L980,70" stroke-width="30.0"/>
<path d="M930,150 L930.1,150" stroke-width="20.0"/>
<path d="M880,190 L880.1,190" stroke-width="20.0"/>
<path d="M620,330 L620.1,330" stroke-width="25.0"/>
<path d="M680,340 L680.1,340" stroke-width="25.0"/>
<path d="M620,405 L620.1,405" stroke-width="25.0"/>
<path d="M730,260 L730.1,260" stroke-width="25.0"/>
<path d="M520,380 L520.1,380" stroke-width="20.0"/>
<path d="M480,300 L480.1,300" stroke-width="20.0"/>
<path d="M470,650 L490,680" stroke-width="30.0"/>
<path d="M550,660 L550.1,660" stroke-width="20.0"/>
<path d="M280,660 L280.1,660" stroke-width="25.0"/>
<path d="M330,610 L330.1,610" stroke-width="20.0"/>
<path d="M300,740 L300.1,740" stroke-width="25.0"/>
<path d="M180,430 L190,440" stroke-width="20.0"/>
<path d="M240,490 L240.1,490" stroke-width="20.0"/>
<path d="M190,540 L190.1,540" stroke-width="20.0"/>
<path d="M100,440 L100.1,440" stroke-width="20.0"/>
<path d="M110,490 L110.1,490" stroke-width="18.0"/>
<path d="M490,510 L490.1,510" stroke-width="20.0"/>
<path d="M440,560 L450,570" stroke-width="18.0"/>
<path d="M570,600 L590,570" stroke-width="18.0"/>
<path d="M1000,200 L980,230" stroke-width="15.0"/>
</g>
<g transform="translate(658,204) scale(0.12695)">
<path d="M0,170 L0,210" stroke-width="50.0"/>
<path d="M20,330 L30,350" stroke-width="60.0"/>
<path d="M740,210 L760,230" stroke-width="60.0"/>
<path d="M800,70 L780,60" stroke-width="40.0"/>
<path d="M920,15 L920.1,15" stroke-width="50.0"/>
<path d="M900,170 L900.1,170" stroke-width="40.0"/>
<path d="M850,190 L850.1,190" stroke-width="30.0"/>
<path d="M350,110 L360,140" stroke-width="40.0"/>
<path d="M290,70 L290.1,70" stroke-width="30.0"/>
<path d="M500,130 L510,140" stroke-width="35.0"/>
<path d="M440,140 L440.1,140" stroke-width="25.0"/>
<path d="M400,255 L400.1,255" stroke-width="35.0"/>
<path d="M460,250 L460.1,250" stroke-width="30.0"/>
<path d="M530,265 L580,300" stroke-width="30.0"/>
<path d="M90,260 L150,240" stroke-width="30.0"/>
<path d="M470,370 L500,350" stroke-width="20.0"/>
<path d="M340,440 L340.1,440" stroke-width="25.0"/>
<path d="M420,470 L380,460" stroke-width="30.0"/>
<path d="M725,320 L725.1,320" stroke-width="26.0"/>
<path d="M645,355 L645.1,355" stroke-width="24.0"/>
<path d="M640,400 L640.1,400" stroke-width="24.0"/>
<path d="M695,410 L695.1,410" stroke-width="28.0"/>
<path d="M690,60 L690.1,60" stroke-width="20.0"/>
<path d="M210,390 L210,480" stroke-width="25.0"/>
<path d="M180,320 L180.1,320" stroke-width="20.0"/>
<path d="M100,470 L100.1,470" stroke-width="25.0"/>
<path d="M40,550 L40.1,550" stroke-width="25.0"/>
<path d="M610,620 L620,660" stroke-width="25.0"/>
<path d="M660,705 L660.1,705" stroke-width="30.0"/>
<path d="M900,530 L920,520" stroke-width="50.0"/>
<path d="M1010,540 L1010.1,540" stroke-width="30.0"/>
<path d="M850,350 L850.1,350" stroke-width="25.0"/>
<path d="M960,300 L960.1,300" stroke-width="30.0"/>
<path d="M900,310 L900.1,310" stroke-width="25.0"/>
<path d="M760,640 L760.1,640" stroke-width="18.0"/>
<path d="M825,635 L825.1,635" stroke-width="18.0"/>
<path d="M790,440 L790.1,440" stroke-width="20.0"/>
<path d="M930,640 L930.1,640" stroke-width="25.0"/>
<path d="M1000,740 L1000.1,740" stroke-width="20.0"/>
<path d="M180,60 L200,35" stroke-width="20.0"/>
<path d="M600,100 L600.1,100" stroke-width="15.0"/>
<path d="M110,745 L110.1,745" stroke-width="25.0"/>
</g>
<g transform="translate(788,204) scale(0.12695)">
<path d="M160,150 L200,155" stroke-width="35.0"/>
<path d="M240,140 L240.1,140" stroke-width="25.0"/>
<path d="M50,290 L50.1,290" stroke-width="35.0"/>
<path d="M80,375 L120,365" stroke-width="30.0"/>
<path d="M200,230 L260,240" stroke-width="25.0"/>
<path d="M150,310 L190,280" stroke-width="20.0"/>
<path d="M200,480 L210,440" stroke-width="18.0"/>
<path d="M20,580 L15,600" stroke-width="40.0"/>
<path d="M150,575 L150.1,575" stroke-width="30.0"/>
<path d="M240,650 L260,660" stroke-width="35.0"/>
<path d="M130,670 L130.1,670" stroke-width="25.0"/>
<path d="M560,30 L580,70" stroke-width="25.0"/>
<path d="M540,10 L540.1,10" stroke-width="15.0"/>
<path d="M380,210 L380.1,210" stroke-width="30.0"/>
<path d="M440,160 L480,140" stroke-width="25.0"/>
<path d="M560,220 L600,200" stroke-width="30.0"/>
<path d="M540,405 L540.1,405" stroke-width="22.0"/>
<path d="M490,435 L490.1,435" stroke-width="20.0"/>
<path d="M540,490 L540.1,490" stroke-width="20.0"/>
<path d="M610,420 L630,380" stroke-width="25.0"/>
<path d="M760,250 L790,240" stroke-width="35.0"/>
<path d="M750,300 L750.1,300" stroke-width="30.0"/>
<path d="M790,110 L900,170 L960,190" stroke-width="15.0"/>
<path d="M900,310 L980,270" stroke-width="12.0"/>
<path d="M830,350 L800,400" stroke-width="20.0"/>
<path d="M430,580 L500,570" stroke-width="25.0"/>
<path d="M380,600 L380.1,600" stroke-width="20.0"/>
<path d="M400,480 L470,495" stroke-width="18.0"/>
<path d="M280,505 L330,495" stroke-width="20.0"/>
<path d="M680,590 L640,680 L630,730" stroke-width="14.0"/>
<path d="M710,685 L710.1,685" stroke-width="25.0"/>
<path d="M880,710 L880.1,710" stroke-width="30.0"/>
<path d="M900,600 L880,640" stroke-width="15.0"/>
<path d="M980,100 L980.1,100" stroke-width="20.0"/>
<path d="M720,90 L760,80" stroke-width="15.0"/>
<path d="M790,15 L790.1,15" stroke-width="12.0"/>
<path d="M830,10 L830.1,10" stroke-width="12.0"/>
<path d="M480,640 L480.1,640" stroke-width="30.0"/>
<path d="M430,690 L430.1,690" stroke-width="25.0"/>
<path d="M330,40 L330.1,40" stroke-width="25.0"/>
<path d="M250,30 L250.1,30" stroke-width="20.0"/>
<path d="M60,50 L80,100" stroke-width="15.0"/>
<path d="M190,50 L190.1,50" stroke-width="12.0"/>
<path d="M350,110 L350.1,110" stroke-width="15.0"/>
</g>
</g>
</g>
</g>
<g id="scalebars" font-weight="bold" stroke-linejoin="round">
<text x="397.2" y="283" font-size="12.7" stroke="#fff" stroke-width="2.2" paint-order="stroke" style="paint-order:stroke">5 µm</text>
<rect x="388.3" y="288.7" width="44.6" height="4" fill="#fff"/><rect x="389.6" y="289.9" width="42" height="1.6" fill="#000"/>
<text x="670.4" y="281.8" font-size="12.6" stroke="#fff" stroke-width="2.2" paint-order="stroke" style="paint-order:stroke">10 µm</text>
<rect x="665.9" y="286.8" width="45" height="4.1" fill="#fff"/><rect x="667.2" y="288" width="42.4" height="1.7" fill="#000"/>
</g>
<g id="xlabels">
<g transform="translate(133.2,767.3) scale(1.04,1) rotate(-14.0)"><text class="x" x="0" y="0">Elastic modulus</text><text class="x" x="34" y="36">(GPa)</text></g>
<g transform="translate(363.5,766.2) scale(1.04,1) rotate(-14.0)"><text class="x" x="0" y="0">Nanohardness</text><text class="x" x="28.5" y="36">(GPa)</text></g>
<g transform="translate(596.0,770.7) scale(1.04,1) rotate(-14.0)"><text class="x" x="0" y="0">Vickers hardness</text><text class="x" x="38.5" y="36">(GPa)</text></g>
<g transform="translate(832.7,773.5) scale(1.04,1) rotate(-14.0)"><text class="x" x="0" y="0">Fracture toughness</text><text class="x" x="70" y="36">(MPa/m<tspan font-size="17.5" dy="-13">1/2</tspan><tspan dy="13">)</tspan></text></g>
</g>
</svg>
</body></html>
